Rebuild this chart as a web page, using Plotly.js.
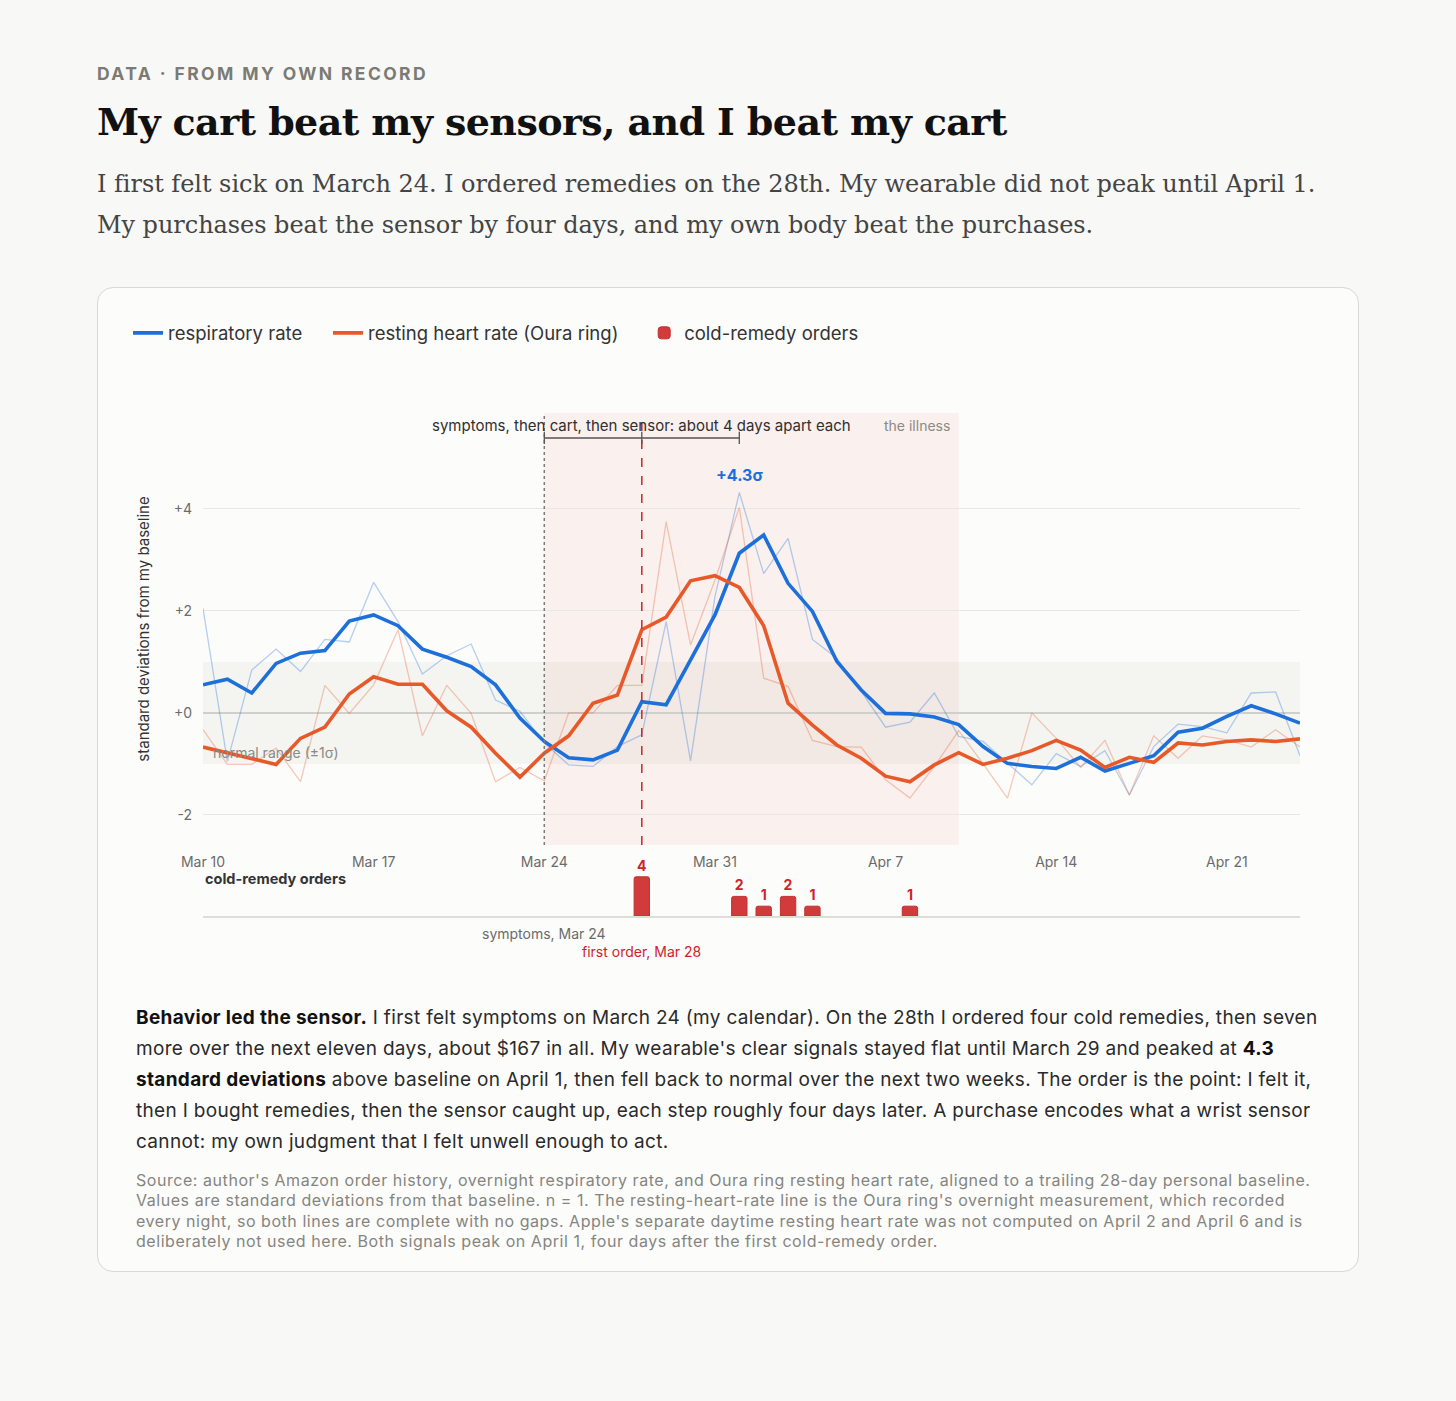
<!DOCTYPE html>
<html>
<head>
<meta charset="utf-8">
<script src="https://cdn.plot.ly/plotly-3.0.1.min.js"></script>
<style>
  html, body { margin: 0; padding: 0; background: #f8f8f6; }
  body { width: 1456px; height: 1401px; position: relative; font-family: Inter, "Noto Sans", sans-serif; }
  .kicker { position: absolute; left: 97px; top: 63px; font-size: 17.5px; line-height: 22px; font-weight: 700; letter-spacing: 2.4px; color: #7b7b73; }
  .title { position: absolute; left: 97px; top: 97px; font-family: "DejaVu Serif", serif; font-weight: 700; font-size: 38px; line-height: 50px; color: #111; white-space: nowrap; letter-spacing: -0.6px; }
  .sub { position: absolute; left: 97px; top: 164px; font-family: "DejaVu Serif", serif; font-size: 24px; line-height: 41px; color: #444; white-space: nowrap; letter-spacing: -0.05px; }
  .card { position: absolute; left: 97px; top: 287px; width: 1260px; height: 983px; border: 1px solid #d8d8d4; border-radius: 16px; background: #fcfcfb; }
  #chart { position: absolute; left: 0px; top: 12px; width: 1260px; height: 680px; }
  .para { position: absolute; left: 38px; top: 714px; width: 1200px; font-size: 19px; line-height: 31px; letter-spacing: 0.32px; color: #2a2a2a; white-space: nowrap; }
  .para b { color: #111; }
  .src { position: absolute; left: 38px; top: 882px; width: 1200px; font-size: 16px; line-height: 20.3px; letter-spacing: 0.55px; color: #85857f; white-space: nowrap; }
</style>
</head>
<body>
<div class="kicker">DATA · FROM MY OWN RECORD</div>
<div class="title">My cart beat my sensors, and I beat my cart</div>
<div class="sub">I first felt sick on March 24. I ordered remedies on the 28th. My wearable did not peak until April 1.<br>My purchases beat the sensor by four days, and my own body beat the purchases.</div>
<div class="card">
  <div id="chart"></div>
  <div class="para"><b>Behavior led the sensor.</b> I first felt symptoms on March 24 (my calendar). On the 28th I ordered four cold remedies, then seven<br>more over the next eleven days, about $167 in all. My wearable's clear signals stayed flat until March 29 and peaked at <b>4.3</b><br><b>standard deviations</b> above baseline on April 1, then fell back to normal over the next two weeks. The order is the point: I felt it,<br>then I bought remedies, then the sensor caught up, each step roughly four days later. A purchase encodes what a wrist sensor<br>cannot: my own judgment that I felt unwell enough to act.</div>
  <div class="src">Source: author's Amazon order history, overnight respiratory rate, and Oura ring resting heart rate, aligned to a trailing 28-day personal baseline.<br>Values are standard deviations from that baseline. n = 1. The resting-heart-rate line is the Oura ring's overnight measurement, which recorded<br>every night, so both lines are complete with no gaps. Apple's separate daytime resting heart rate was not computed on April 2 and April 6 and is<br>deliberately not used here. Both signals peak on April 1, four days after the first cold-remedy order.</div>
</div>
<script>
// ---- data ----
const dates = [
  "2025-03-10","2025-03-11","2025-03-12","2025-03-13","2025-03-14","2025-03-15","2025-03-16",
  "2025-03-17","2025-03-18","2025-03-19","2025-03-20","2025-03-21","2025-03-22","2025-03-23",
  "2025-03-24","2025-03-25","2025-03-26","2025-03-27","2025-03-28","2025-03-29","2025-03-30",
  "2025-03-31","2025-04-01","2025-04-02","2025-04-03","2025-04-04","2025-04-05","2025-04-06",
  "2025-04-07","2025-04-08","2025-04-09","2025-04-10","2025-04-11","2025-04-12","2025-04-13",
  "2025-04-14","2025-04-15","2025-04-16","2025-04-17","2025-04-18","2025-04-19","2025-04-20",
  "2025-04-21","2025-04-22","2025-04-23","2025-04-24"
];
const respSmooth = [0.55,0.66,0.39,0.97,1.17,1.22,1.80,1.92,1.71,1.25,1.09,0.91,0.55,-0.10,-0.56,-0.88,-0.92,-0.73,0.22,0.16,1.04,1.92,3.13,3.49,2.54,1.99,1.01,0.45,-0.01,-0.02,-0.08,-0.23,-0.66,-0.99,-1.05,-1.09,-0.87,-1.14,-0.99,-0.84,-0.38,-0.30,-0.07,0.14,-0.02,-0.20];
const respRaw = [2.05,-0.95,0.84,1.25,0.81,1.44,1.39,2.56,1.79,0.76,1.12,1.35,0.25,0.03,-0.59,-1.02,-1.05,-0.66,-0.43,1.79,-0.94,2.28,4.32,2.73,3.42,1.44,1.07,0.42,-0.28,-0.18,0.39,-0.46,-0.56,-0.99,-1.41,-0.80,-1.05,-0.74,-1.61,-0.66,-0.22,-0.27,-0.39,0.39,0.41,-0.84];
const hrSmooth = [-0.67,-0.78,-0.90,-1.01,-0.50,-0.28,0.37,0.71,0.56,0.56,0.04,-0.28,-0.79,-1.26,-0.79,-0.45,0.19,0.35,1.63,1.88,2.59,2.69,2.46,1.71,0.19,-0.24,-0.63,-0.89,-1.24,-1.35,-1.02,-0.78,-1.01,-0.89,-0.74,-0.54,-0.73,-1.07,-0.87,-0.97,-0.59,-0.63,-0.56,-0.53,-0.56,-0.51];
const hrRaw = [-0.33,-1.01,-1.01,-0.69,-1.35,0.54,-0.01,0.55,1.63,-0.45,0.54,-0.01,-1.35,-1.07,-1.33,0.00,0.00,0.54,0.54,3.75,1.33,2.60,4.03,0.68,0.52,-0.54,-0.66,-0.67,-1.31,-1.67,-1.05,-0.35,-1.00,-1.67,0.00,-0.50,-1.07,-0.54,-1.61,-0.45,-0.89,-0.45,-0.53,-0.67,-0.33,-0.67];
const orderDates = ["2025-03-28","2025-04-01","2025-04-02","2025-04-03","2025-04-04","2025-04-08"];
const orderCounts = [4,2,1,2,1,1];
const yTickVals = [-2,0,2,4];
const yTickText = ["-2","+0","+2","+4"];
const seriesNames = ["respiratory rate", "resting heart rate (Oura ring)", "cold-remedy orders"];
const symptomsDate = "2025-03-24";
const firstOrderDate = "2025-03-28";
const sensorPeakDate = "2025-04-01";
const illnessEnd = "2025-04-10";
const peakValue = 4.3;

// ---- style ----
const BLUE = "#1d6fd9", ORANGE = "#e8592a", RED = "#d23b3b", RED_TXT = "#d0222a";
const FONT = "Inter, 'Noto Sans', sans-serif";
const GAP = "\u00a0\u00a0\u00a0\u00a0"; // spacing after legend entries

const traces = [
  {x: dates, y: respRaw, type: "scatter", mode: "lines", line: {color: BLUE, width: 1.3}, opacity: 0.32, showlegend: false, hoverinfo: "skip"},
  {x: dates, y: hrRaw, type: "scatter", mode: "lines", line: {color: ORANGE, width: 1.3}, opacity: 0.32, showlegend: false, hoverinfo: "skip"},
  {x: dates, y: respSmooth, type: "scatter", mode: "lines", name: seriesNames[0] + GAP, line: {color: BLUE, width: 3.6}},
  {x: dates, y: hrSmooth, type: "scatter", mode: "lines", name: seriesNames[1] + GAP, line: {color: ORANGE, width: 3.6}},
  {x: orderDates, y: orderCounts, type: "bar", name: seriesNames[2], xaxis: "x2", yaxis: "y2",
   width: 0.63 * 86400000, marker: {color: RED, line: {color: "#c22f2f", width: 1}, cornerradius: 2},
   text: orderCounts.map(String), textposition: "outside", constraintext: "none", cliponaxis: false,
   textfont: {color: RED_TXT, size: 14, family: FONT, weight: 700}}
];

const layout = {
  width: 1260, height: 680,
  margin: {l: 105, r: 58, t: 113, b: 64},
  paper_bgcolor: "rgba(0,0,0,0)", plot_bgcolor: "rgba(0,0,0,0)",
  font: {family: FONT, color: "#333", size: 14},
  hovermode: false,
  showlegend: true,
  legend: {orientation: "h", xref: "container", yref: "container", x: 0.0238, y: 0.951, xanchor: "left", yanchor: "middle",
           font: {size: 18.5, color: "#333"}, tracegroupgap: 0},
  xaxis: {type: "date", range: [dates[0], dates[dates.length - 1]],
          domain: [0, 1], anchor: "y", tickformat: "%b %-d", dtick: 7 * 86400000, tick0: dates[0],
          showgrid: false, zeroline: false, showline: false, ticks: "", ticklabelstandoff: 7,
          tickfont: {size: 14, color: "#6b6b6b"}, fixedrange: true},
  yaxis: {domain: [0.1412, 1], range: [-2.59, 5.88], tickvals: yTickVals, ticktext: yTickText,
          showgrid: true, gridcolor: "#e7e7e4", gridwidth: 1, zeroline: true, zerolinecolor: "#cfcfcb", zerolinewidth: 1.5,
          ticks: "", ticklabelstandoff: 10, tickfont: {size: 14, color: "#6b6b6b"},
          title: {text: "standard deviations from my baseline", font: {size: 15, color: "#333"}, standoff: 20}, fixedrange: true},
  xaxis2: {type: "date", matches: "x", anchor: "y2", domain: [0, 1], showticklabels: false, showgrid: false, zeroline: false,
           showline: true, linecolor: "#deded9", linewidth: 2, ticks: "", fixedrange: true},
  yaxis2: {domain: [0, 0.13], range: [0, 6.67], showticklabels: false, showgrid: false, zeroline: false, ticks: "", fixedrange: true},
  shapes: [
    {type: "rect", layer: "below", xref: "x domain", x0: 0, x1: 1, yref: "y", y0: -1, y1: 1, fillcolor: "rgba(60,60,30,0.045)", line: {width: 0}},
    {type: "rect", layer: "below", xref: "x", x0: symptomsDate, x1: illnessEnd, yref: "y domain", y0: 0, y1: 1, fillcolor: "rgba(225,80,60,0.065)", line: {width: 0}},
    {type: "line", xref: "x", x0: symptomsDate, x1: symptomsDate, yref: "y domain", y0: 0, y1: 1, line: {color: "#7a7a7a", width: 1.5, dash: "dot"}},
    {type: "line", xref: "x", x0: firstOrderDate, x1: firstOrderDate, yref: "y domain", y0: 0, y1: 1, line: {color: RED_TXT, width: 1.5, dash: "dash"}},
    {type: "line", xref: "x", x0: symptomsDate, x1: sensorPeakDate, yref: "y", y0: 5.39, y1: 5.39, line: {color: "#555", width: 1.3}},
    {type: "line", xref: "x", x0: symptomsDate, x1: symptomsDate, yref: "y", y0: 5.27, y1: 5.51, line: {color: "#555", width: 1.3}},
    {type: "line", xref: "x", x0: firstOrderDate, x1: firstOrderDate, yref: "y", y0: 5.27, y1: 5.51, line: {color: "#555", width: 1.3}},
    {type: "line", xref: "x", x0: sensorPeakDate, x1: sensorPeakDate, yref: "y", y0: 5.27, y1: 5.51, line: {color: "#555", width: 1.3}}
  ],
  annotations: [
    {xref: "x", x: firstOrderDate, yref: "y", y: 5.63, text: "symptoms, then cart, then sensor: about 4 days apart each", showarrow: false, font: {size: 15, color: "#2f2f2f"}, xanchor: "center", yanchor: "middle"},
    {xref: "x", x: illnessEnd, xshift: -7, yref: "y", y: 5.63, text: "the illness", showarrow: false, font: {size: 14, color: "#8a8a85"}, xanchor: "right", yanchor: "middle"},
    {xref: "x", x: sensorPeakDate, yref: "y", y: 4.67, text: "<b>+" + peakValue + "σ</b>", showarrow: false, font: {size: 16, color: BLUE}, xanchor: "center", yanchor: "middle"},
    {xref: "x domain", x: 0, xshift: 8, yref: "y", y: -0.78, text: "normal range (±1σ)", showarrow: false, font: {size: 14, color: "#8a8a85"}, xanchor: "left", yanchor: "middle"},
    {xref: "x2 domain", x: 0, yref: "y2 domain", y: 0.58, text: "<b>" + seriesNames[2] + "</b>", showarrow: false, font: {size: 14.5, color: "#333"}, xanchor: "left", yanchor: "middle"},
    {xref: "x2", x: symptomsDate, yref: "y2 domain", y: -0.26, text: "symptoms, Mar 24", showarrow: false, font: {size: 14, color: "#6b6b6b"}, xanchor: "center", yanchor: "middle"},
    {xref: "x2", x: firstOrderDate, yref: "y2 domain", y: -0.538, text: "first order, Mar 28", showarrow: false, font: {size: 14, color: RED_TXT}, xanchor: "center", yanchor: "middle"}
  ]
};

Plotly.newPlot("chart", traces, layout, {displayModeBar: false, staticPlot: true});
</script>
</body>
</html>
